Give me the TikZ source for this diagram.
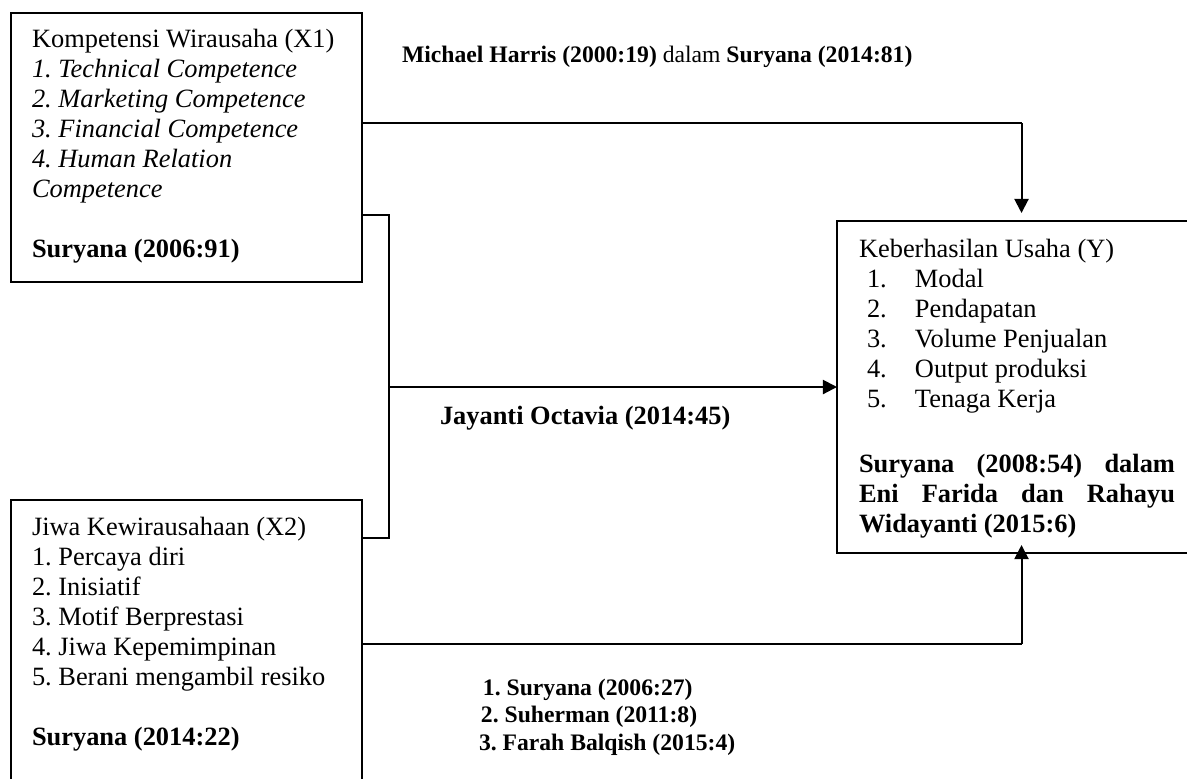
\documentclass[tikz,border=0pt]{standalone}
\usepackage{fontspec}
\setmainfont{Liberation Serif}
\usetikzlibrary{arrows.meta,calc}
\newcommand\firststrut{\rule{0pt}{10pt}}
\frenchspacing
\begin{document}
\begin{tikzpicture}[x=0.4545pt,y=-0.4545pt,
  box/.style={draw, line width=0.9pt, inner sep=0pt, outer sep=0pt, anchor=north west},
  txt/.style={inner sep=0pt, outer sep=0pt, anchor=north west, align=left, font=\fontsize{12}{13.64}\selectfont\frenchspacing},
  smalltxt/.style={inner sep=0pt, outer sep=0pt, anchor=north west, align=left, font=\fontsize{10.75}{12.5}\selectfont\frenchspacing},
  thinl/.style={line width=0.5pt},
  medl/.style={line width=0.7pt},
  thickl/.style={line width=0.9pt},
  arr/.style={-{Triangle[length=6.4pt,width=6.4pt]}}
]
\useasboundingbox (0,0) rectangle (1187,778);
% boxes
\node[box, minimum width=159.5pt, minimum height=122.3pt] (x1) at (11,13) {};
\node[box, minimum width=159.5pt, minimum height=127.3pt] (x2) at (11,500) {};
\node[box, minimum width=159.5pt, minimum height=150.9pt] (y) at (837,221) {};
% box texts
\node[txt] (x1t) at (32,47-22) {\firststrut Kompetensi Wirausaha (X1)\\
  \textit{1. Technical Competence}\\
  \textit{2. Marketing Competence}\\
  \textit{3. Financial Competence}\\
  \textit{4. Human Relation}\\
  \textit{Competence}\\[13.64pt]
  \textbf{Suryana (2006:91)}};
\node[txt] (x2t) at (32,535-22) {\firststrut Jiwa Kewirausahaan (X2)\\
  1. Percaya diri\\
  2. Inisiatif\\
  3. Motif Berprestasi\\
  4. Jiwa Kepemimpinan\\
  5. Berani mengambil resiko\\[13.64pt]
  \textbf{Suryana (2014:22)}};
\node[txt] (yt) at (859,257-22) {\firststrut Keberhasilan Usaha (Y)\\
  \hspace*{3.64pt}\makebox[21.8pt][l]{1.}Modal\\
  \hspace*{3.64pt}\makebox[21.8pt][l]{2.}Pendapatan\\
  \hspace*{3.64pt}\makebox[21.8pt][l]{3.}Volume Penjualan\\
  \hspace*{3.64pt}\makebox[21.8pt][l]{4.}Output produksi\\
  \hspace*{3.64pt}\makebox[21.8pt][l]{5.}Tenaga Kerja\\[15.9pt]
  \makebox[143.6pt][s]{\textbf{Suryana (2008:54) dalam}}\\
  \makebox[143.6pt][s]{\textbf{Eni Farida dan Rahayu}}\\
  \textbf{Widayanti (2015:6)}};
% connector labels
\node[smalltxt] (lab1) at (402,62-22) {\firststrut\textbf{Michael Harris (2000:19)} dalam \textbf{Suryana (2014:81)}};
\node[txt] (lab2) at (440,424-22) {\firststrut\textbf{Jayanti Octavia (2014:45)}};
\node[smalltxt] (lab3) at (479,695-22) {\firststrut\hspace*{1.8pt}\textbf{1. Suryana (2006:27)}\\
  \hspace*{0.9pt}\textbf{2. Suherman (2011:8)}\\
  \textbf{3. Farah Balqish (2015:4)}};
% connectors
\coordinate (c1) at (1021.5,123);
\coordinate (c2) at (1021.5,644);
\coordinate (b1) at (389,215);
\coordinate (b2) at (389,538);
\draw[thinl] ($(x1.north east)+(0,110)$) -- (c1);
\draw[thickl, arr] (c1) -- ($(y.north west -| c1)+(0,-8)$);
\draw[thinl] ($(x1.north east)+(0,202)$) -- (b1) -- (b2) -- ($(x2.north east)+(0,38)$);
\draw[thickl, arr] (b1 |- y.west) -- (y.west);
\draw[medl] ($(x2.north east)+(0,144)$) -- (c2);
\draw[thickl, arr] (c2) -- ($(y.south west -| c2)+(0,-8)$);
\end{tikzpicture}
\end{document}
